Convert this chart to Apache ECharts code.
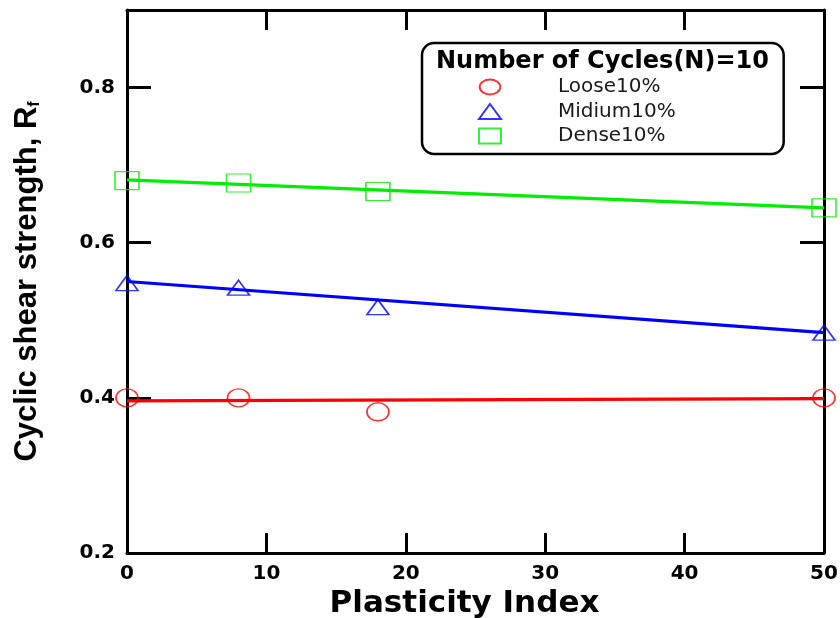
<!DOCTYPE html>
<html>
<head>
<meta charset="utf-8">
<script src="https://cdn.jsdelivr.net/npm/echarts@6/dist/echarts.min.js"></script>
<style>html,body{margin:0;padding:0;background:#fff}#c{width:840px;height:618px}</style>
</head>
<body>
<div id="c"></div>
<script>
// Data
var plasticityIndex = [0, 8, 18, 50];
var loose10 = [0.400, 0.400, 0.382, 0.400];
var midium10 = [0.548, 0.542, 0.517, 0.484];
var dense10 = [0.680, 0.677, 0.666, 0.645];
var fitX = [0, 50];
var looseFit = [0.396, 0.399];
var midiumFit = [0.550, 0.484];
var denseFit = [0.681, 0.645];
var seriesNames = ['Loose10%', 'Midium10%', 'Dense10%'];
var legendTitle = 'Number of Cycles(N)=10';
var xName = 'Plasticity Index';
var yName = 'Cyclic shear strength, R';
var ySub = 'f';

function pairs(xs, ys) { return xs.map(function (x, i) { return [x, ys[i]]; }); }

var RED = '#ff0000', BLUE = '#0000ff', GREEN = '#00ee00';
var BOLD = 'DejaVu Sans';
var ELLIPSE = 'path://M0,8A11,8 0 1,0 22,8A11,8 0 1,0 0,8Z';

var chart = echarts.init(document.getElementById('c'), null, {renderer: 'canvas'});
var axisLineStyle = {color: '#000', width: 3};
var tickStyle = {color: '#000', width: 3};

chart.setOption({
  animation: false,
  backgroundColor: '#fff',
  grid: {left: 127, right: 16, top: 10, bottom: 65, containLabel: false, outerBoundsMode: 'none'},
  title: {
    text: legendTitle,
    left: 436, top: 50, padding: 0,
    textStyle: {fontFamily: BOLD, fontWeight: 'bold', fontSize: 24, color: '#000'}
  },
  legend: {
    data: [
      {name: seriesNames[0], icon: ELLIPSE},
      {name: seriesNames[1]},
      {name: seriesNames[2]}
    ],
    orient: 'vertical',
    left: 422, top: 43,
    padding: [34, 108, 8, 56],
    itemGap: 4.5,
    itemWidth: 22, itemHeight: 15,
    borderColor: '#000', borderWidth: 2.5, borderRadius: 12,
    backgroundColor: '#fff',
    textStyle: {fontFamily: 'DejaVu Sans', fontSize: 20, color: '#1a1a1a', lineHeight: 20, padding: [0, 0, 0, 52]}
  },
  xAxis: [{
    type: 'value', min: 0, max: 50, interval: 10,
    name: xName, nameLocation: 'middle', nameGap: 23,
    nameTextStyle: {fontFamily: BOLD, fontWeight: 'bold', fontSize: 31, color: '#000', padding: [0, 22, 0, 0]},
    axisLine: {show: true, onZero: false, lineStyle: axisLineStyle},
    axisTick: {show: true, inside: true, length: 20, lineStyle: tickStyle},
    axisLabel: {fontFamily: BOLD, fontWeight: 'bold', fontSize: 20, color: '#000', margin: 11},
    splitLine: {show: false}
  }, {
    type: 'value', min: 0, max: 50, interval: 10, position: 'top',
    axisLine: {show: true, onZero: false, lineStyle: axisLineStyle},
    axisTick: {show: true, inside: true, length: 20, lineStyle: tickStyle},
    axisLabel: {show: false},
    splitLine: {show: false}
  }],
  yAxis: [{
    type: 'value', min: 0.2, max: 0.9, interval: 0.2,
    name: '{a|' + yName + '}{b|' + ySub + '}',
    nameLocation: 'middle', nameGap: 84, nameRotate: 90,
    nameTextStyle: {
      rich: {
        a: {fontFamily: 'Liberation Sans', fontWeight: 'bold', fontSize: 31, color: '#000'},
        b: {fontFamily: 'Liberation Sans', fontWeight: 'bold', fontSize: 16, color: '#000', padding: [14, 0, 0, 0]}
      }
    },
    axisLine: {show: true, onZero: false, lineStyle: axisLineStyle},
    axisTick: {show: true, inside: true, length: 24, lineStyle: tickStyle},
    axisLabel: {fontFamily: BOLD, fontWeight: 'bold', fontSize: 20, color: '#000', margin: 12, showMaxLabel: false,
      formatter: function (v) { return v.toFixed(1); }},
    splitLine: {show: false}
  }, {
    type: 'value', min: 0.2, max: 0.9, interval: 0.2, position: 'right',
    axisLine: {show: true, onZero: false, lineStyle: axisLineStyle},
    axisTick: {show: true, inside: true, length: 24, lineStyle: tickStyle},
    axisLabel: {show: false},
    splitLine: {show: false}
  }],
  series: [
    {name: seriesNames[0], type: 'scatter', data: pairs(plasticityIndex, loose10), symbol: 'circle', symbolSize: [22, 18],
      itemStyle: {color: 'rgba(255,255,255,0)', borderColor: RED, borderWidth: 1.6}, z: 3},
    {name: seriesNames[1], type: 'scatter', data: pairs(plasticityIndex, midium10), symbol: 'triangle', symbolSize: [22, 15],
      itemStyle: {color: 'rgba(255,255,255,0)', borderColor: BLUE, borderWidth: 1.6}, z: 3},
    {name: seriesNames[2], type: 'scatter', data: pairs(plasticityIndex, dense10), symbol: 'rect', symbolSize: [24, 18],
      itemStyle: {color: 'rgba(255,255,255,0)', borderColor: GREEN, borderWidth: 1.4}, z: 3},
    {name: 'looseFit', type: 'line', data: pairs(fitX, looseFit), showSymbol: false, symbol: 'none',
      lineStyle: {color: RED, width: 3.2}, z: 2},
    {name: 'midiumFit', type: 'line', data: pairs(fitX, midiumFit), showSymbol: false, symbol: 'none',
      lineStyle: {color: BLUE, width: 3.2}, z: 2},
    {name: 'denseFit', type: 'line', data: pairs(fitX, denseFit), showSymbol: false, symbol: 'none',
      lineStyle: {color: GREEN, width: 3.2}, z: 2}
  ]
});
</script>
</body>
</html>
